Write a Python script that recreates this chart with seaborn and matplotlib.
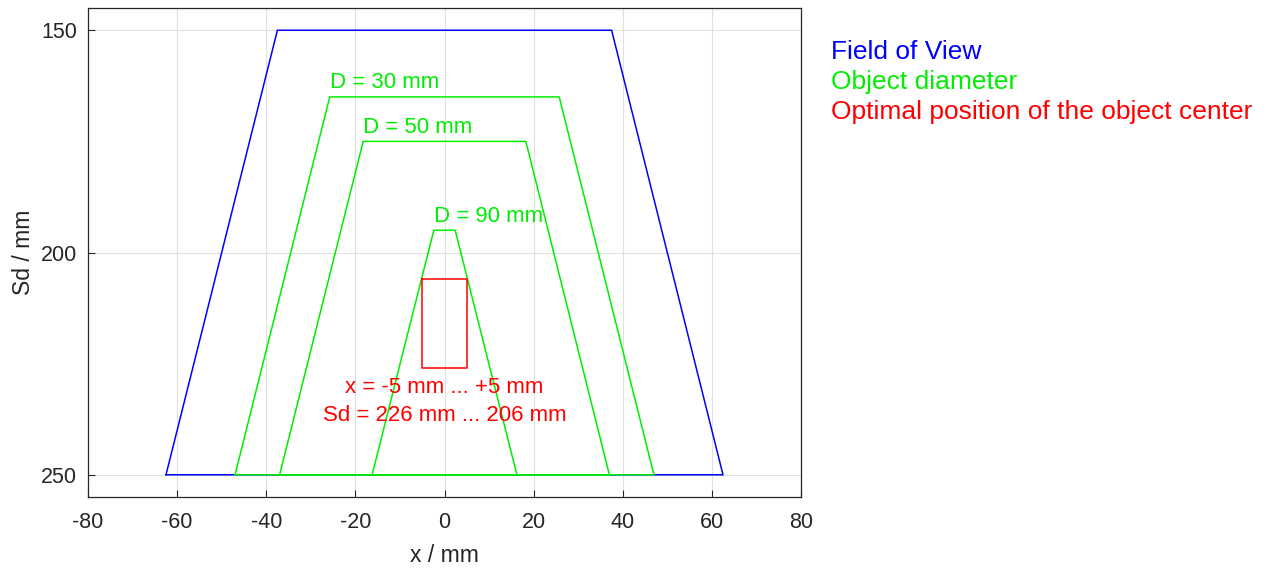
import pandas as pd
import seaborn as sns
import matplotlib.pyplot as plt

# =========================
# Data (x in mm, Sd in mm)
# =========================
fov_x = [-62.5, -37.5, 37.5, 62.5, -62.5]
fov_sd = [250, 150, 150, 250, 250]

diam_labels = ["D = 30 mm", "D = 50 mm", "D = 90 mm"]
diam_bottom_half = [47.0, 37.0, 16.25]   # half width at Sd = 250
diam_top_half = [25.75, 18.25, 2.4]      # half width at top
diam_top_sd = [165, 175, 195]

opt_x = [-5, 5, 5, -5, -5]
opt_sd = [206, 206, 226, 226, 206]
opt_text = ["x = -5 mm ... +5 mm", "Sd = 226 mm ... 206 mm"]

legend_text = ["Field of View", "Object diameter", "Optimal position of the object center"]
legend_colors = ["blue", "#00ee00", "red"]

# =========================
# Style
# =========================
sns.set_style("whitegrid", {"grid.color": "#e0e0e0", "axes.edgecolor": "#262626",
                            "xtick.direction": "in", "ytick.direction": "in",
                            "xtick.bottom": True, "ytick.left": True})
plt.rcParams["font.family"] = ["Liberation Sans", "DejaVu Sans"]
plt.rcParams["axes.unicode_minus"] = False

fig = plt.figure(figsize=(12.7, 5.72), dpi=100)
ax = fig.add_axes([0.0693, 0.1311, 0.5614, 0.8549])

# Field of view
sns.lineplot(x=fov_x, y=fov_sd, sort=False, estimator=None, color="blue", lw=1.1, ax=ax)

# Object diameter polygons
for lab, hb, ht, st in zip(diam_labels, diam_bottom_half, diam_top_half, diam_top_sd):
    df = pd.DataFrame({"x": [-hb, -ht, ht, hb, -hb], "sd": [250, st, st, 250, 250]})
    sns.lineplot(data=df, x="x", y="sd", sort=False, estimator=None, color="#00ee00", lw=1.1, ax=ax)
    ax.text(-ht, st - 0.8, lab, color="#00ee00", fontsize=16, ha="left", va="bottom")

# Optimal position rectangle
sns.lineplot(x=opt_x, y=opt_sd, sort=False, estimator=None, color="red", lw=1.1, ax=ax)
ax.text(0, 230.3, opt_text[0], color="red", fontsize=16, ha="center", va="center")
ax.text(0, 236.6, opt_text[1], color="red", fontsize=16, ha="center", va="center")

ax.set_xlim(-80, 80)
ax.set_ylim(255, 145)
ax.set_xticks(range(-80, 81, 20))
ax.set_yticks([150, 200, 250])
ax.tick_params(labelsize=15.5, colors="#262626", length=5, width=0.8)
ax.tick_params(axis="x", pad=11)
ax.tick_params(axis="y", pad=8)
ax.set_xlabel("x / mm", fontsize=16.5, color="#262626", labelpad=8)
ax.set_ylabel("Sd / mm", fontsize=16.5, color="#262626", labelpad=4)
for s in ax.spines.values():
    s.set_linewidth(0.9)

# Text legend on the right
for i, (t, c) in enumerate(zip(legend_text, legend_colors)):
    fig.text(0.654, 0.9085 - i * 0.0525, t, color=c, fontsize=19, ha="left", va="center")

plt.savefig("out.png", dpi=100)
plt.close(fig)
